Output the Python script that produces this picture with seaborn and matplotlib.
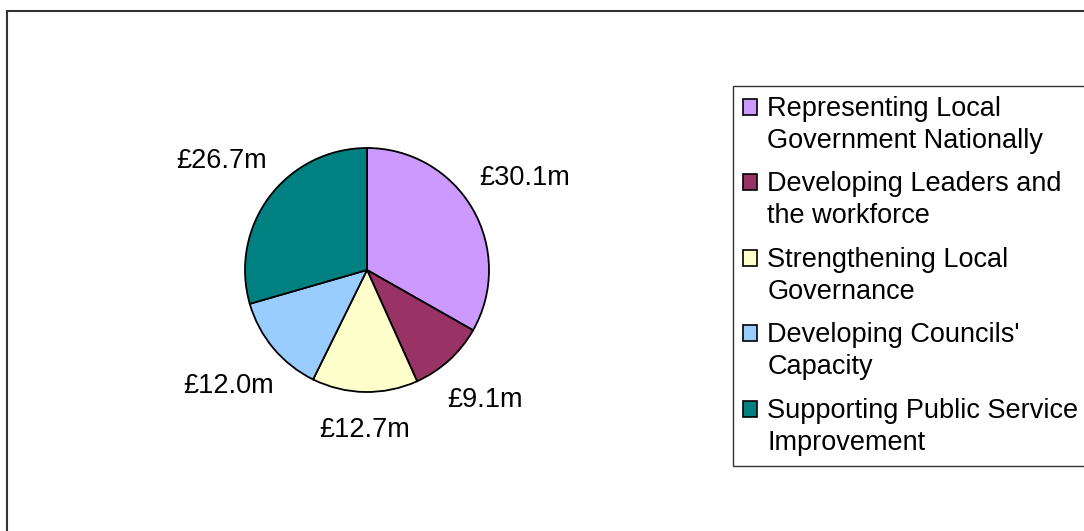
import numpy as np
import matplotlib.pyplot as plt
import seaborn as sns
from matplotlib.patches import Patch, Rectangle
from matplotlib.legend_handler import HandlerPatch

# Data
categories = [
    "Representing Local\nGovernment Nationally",
    "Developing Leaders and\nthe workforce",
    "Strengthening Local\nGovernance",
    "Developing Councils'\nCapacity",
    "Supporting Public Service\nImprovement",
]
values = [30.1, 9.1, 12.7, 12.0, 26.7]
value_labels = ["£30.1m", "£9.1m", "£12.7m", "£12.0m", "£26.7m"]
colours = ["#CC99FF", "#993366", "#FFFFCC", "#99CCFF", "#008080"]

sns.set_style("white")
plt.rcParams["font.family"] = ["Liberation Sans", "DejaVu Sans"]
plt.rcParams["text.color"] = "black"

FS = 19.5
W, H = 1084, 531
fig = plt.figure(figsize=(W / 100, H / 100), dpi=100)
ax = fig.add_axes([245 / W, 139 / H, 244 / W, 244 / H])

palette = sns.color_palette(colours)
wedges, _ = ax.pie(values, colors=palette, startangle=90, counterclock=False,
                   wedgeprops=dict(edgecolor="black", linewidth=1.3))
ax.set_xlim(-1, 1)
ax.set_ylim(-1, 1)

# value labels outside the wedges
for w, lab in zip(wedges, value_labels):
    ang = np.deg2rad((w.theta1 + w.theta2) / 2)
    c, s = np.cos(ang), np.sin(ang)
    hw = 0.045 * len(lab)
    r = 1.22 + abs(c) * hw + abs(s) * 0.09
    ax.text(r * c, r * s, lab, ha="center", va="center", fontsize=FS)

# outer frame (cut off at right and bottom)
fig.patches.append(Rectangle((7 / W, -0.1), 1.2, 1.1 - 11 / H, fill=False,
                             edgecolor="#333333", linewidth=1.5,
                             transform=fig.transFigure, figure=fig))


# square legend keys sit next to the first line of each label
def top_square(legend, orig_handle, xdescent, ydescent, width, height, fontsize):
    return Rectangle((-xdescent, -ydescent + fontsize * 0.68), width, height)


handles = [Patch(facecolor=col, edgecolor="black", linewidth=1.2) for col in palette]
leg = fig.legend(handles, categories, loc="upper left",
                 bbox_to_anchor=(733 / W, 1 - 86 / H), borderaxespad=0,
                 fontsize=FS, frameon=True, fancybox=False, edgecolor="black",
                 handlelength=0.52, handleheight=0.52, handletextpad=0.38,
                 labelspacing=0.66, borderpad=0.37,
                 handler_map={Patch: HandlerPatch(patch_func=top_square)})
leg.get_frame().set_linewidth(1.0)
for t in leg.get_texts():
    t.set_linespacing(1.28)

fig.savefig("out.png", dpi=100)
